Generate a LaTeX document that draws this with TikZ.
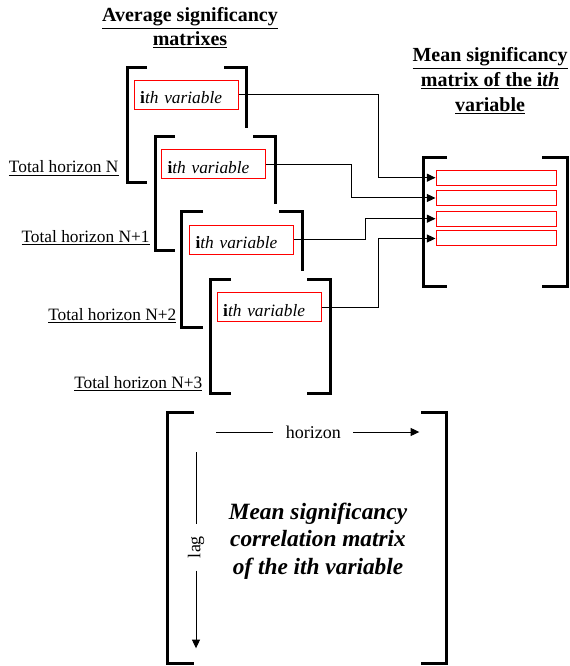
\documentclass[tikz,border=0pt]{standalone}
\usepackage{fontspec}
\setmainfont{Liberation Serif}
\usetikzlibrary{arrows.meta}

\tikzset{every picture/.style={line width=0.75pt}}
\tikzset{
  bracket/.style={line width=2.25pt},
  varbox/.style={draw=red, text width=69pt, align=left, inner xsep=4.5pt, inner ysep=0pt,
    minimum height=21.75pt, text height=13.5pt, text depth=0pt, font=\fontsize{13}{15}\selectfont},
  bar/.style={draw=red, minimum width=90pt, minimum height=11.25pt, inner sep=0pt},
  conn/.style={-{Triangle[length=6.5pt,width=6pt]}},
  hlabel/.style={anchor=base east, inner sep=0pt, font=\fontsize{13}{15}\selectfont},
  title/.style={align=center, font=\fontsize{15}{17.5}\selectfont\bfseries},
}

\begin{document}
\begin{tikzpicture}[x=0.75pt,y=0.75pt,yscale=-1,xscale=1]
	\useasboundingbox (0,0) rectangle (569,666);

	% Text Node
	\node[title] (ttlA) at (190,28) {\underline{Average significancy}\\\underline{matrixes}};
	% Text Node
	\node[title, font=\fontsize{15}{18.75}\selectfont\bfseries] (ttlB) at (490,81) {\underline{Mean significancy}\\\underline{matrix of the i\textit{th}}\\\underline{variable}};

	%Shape: Bracket matrix N
	\draw[bracket] (147,68) -- (127,68) -- (127,183) -- (147,183) ;
	\draw[bracket] (224,68) -- (246,68) -- (246,128) ;
	%Shape: Bracket matrix N+1
	\draw[bracket] (175,137) -- (155,137) -- (155,251) -- (175,251) ;
	\draw[bracket] (253,137) -- (275,137) -- (275,204) ;
	%Shape: Bracket matrix N+2
	\draw[bracket] (203,212) -- (181,212) -- (181,327) -- (203,327) ;
	\draw[bracket] (279,212) -- (302,212) -- (302,271) ;
	%Shape: Bracket matrix N+3
	\draw[bracket] (231,279) -- (210,279) -- (210,393) -- (231,393) ;
	\draw[bracket] (307,279) -- (330,279) -- (330,393) -- (307,393) ;

	% Text Node
	\node[varbox] (v1) at (186.2,95) {\textbf{i}\textit{th variable}};
	\node[varbox] (v2) at (213.5,164.5) {\textbf{i}\textit{th variable}};
	\node[varbox] (v3) at (241.5,239.7) {\textbf{i}\textit{th variable}};
	\node[varbox] (v4) at (269.2,307.2) {\textbf{i}\textit{th variable}};

	% Text Node
	\node[hlabel] (h1) at (119,173) {\underline{Total horizon N}};
	\node[hlabel] (h2) at (150,242.3) {\underline{Total horizon N+1}};
	\node[hlabel] (h3) at (176.7,320) {\underline{Total horizon N+2}};
	\node[hlabel] (h4) at (202.7,388.3) {\underline{Total horizon N+3}};

	%Shape: Bracket mean matrix
	\draw[bracket] (447,158) -- (423,158) -- (423,286) -- (447,286) ;
	\draw[bracket] (542,158) -- (567,158) -- (567,286) -- (542,286) ;
	%Shape: Rectangle
	\node[bar] (b1) at (496,177.7) {};
	\node[bar] (b2) at (496,198) {};
	\node[bar] (b3) at (496,218.7) {};
	\node[bar] (b4) at (496,238.5) {};

	%Straight Lines
	\coordinate (k1) at (378,0);
	\coordinate (k2) at (351,0);
	\coordinate (k3) at (365,0);
	\coordinate (k4) at (378,0);
	\draw[conn] (v1.east) -- (v1.east -| k1) |- (b1.west) ;
	\draw[conn] (v2.east) -- (v2.east -| k2) |- (b2.west) ;
	\draw[conn] (v3.east) -- (v3.east -| k3) |- (b3.west) ;
	\draw[conn] (v4.east) -- (v4.east -| k4) |- (b4.west) ;

	%Shape: Bracket correlation matrix
	\draw[bracket] (194,412) -- (167,412) -- (167,663) -- (194,663) ;
	\draw[bracket] (421,412) -- (446,412) -- (446,663) -- (421,663) ;

	% Text Node
	\node[inner xsep=9pt, font=\fontsize{13.5}{16}\selectfont] (hz) at (313.3,432) {horizon};
	\coordinate (hs) at (216,432);
	\coordinate (he) at (419.3,432);
	\draw (hs) -- (hz) ;
	\draw[conn] (hz) -- (he) ;
	% Text Node
	\node[rotate=90, inner xsep=9pt, font=\fontsize{13.5}{16}\selectfont] (lg) at (196,547) {lag};
	\coordinate (ls) at (196,452);
	\coordinate (le) at (196,648.3);
	\draw (ls) -- (lg) ;
	\draw[conn] (lg) -- (le) ;

	% Text Node
	\node[align=center, font=\fontsize{17.5}{20.6}\selectfont\bfseries\itshape] (corr) at (318,541) {Mean significancy\\correlation matrix\\of the ith variable};

\end{tikzpicture}
\end{document}
